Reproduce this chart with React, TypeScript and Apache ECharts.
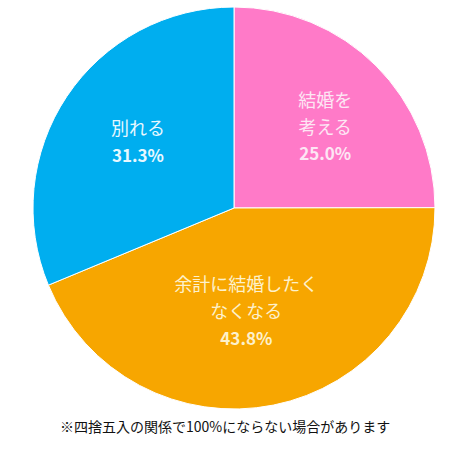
import { useEffect, useRef } from 'react';
import * as echarts from 'echarts';

const categories = ['結婚を\n考える', '余計に結婚したく\nなくなる', '別れる'];
const shares = [25.0, 43.8, 31.3];
const sliceColors = ['#ff7ac8', '#f7a600', '#00aeef'];
const labelColors = ['#fde6f4', '#fdf1cc', '#e8f8ff'];
const labelOffsets = [
  [18, -9],
  [-8, 1],
  [-10, -10],
];
const footnote = '※四捨五入の関係で100%にならない場合があります';

const FONT = "'Noto Sans CJK JP', 'Noto Sans', sans-serif";

export default function App() {
  const chartRef = useRef<HTMLDivElement>(null);

  useEffect(() => {
    if (!chartRef.current) return;
    document.body.style.margin = '0';
    const chart = echarts.init(chartRef.current, null, { renderer: 'svg' });

    const option: echarts.EChartsOption = {
      animation: false,
      backgroundColor: '#ffffff',
      series: [
        {
          type: 'pie',
          center: [234, 208],
          radius: 201,
          startAngle: 90,
          clockwise: true,
          silent: true,
          itemStyle: { borderColor: '#ffffff', borderWidth: 1 },
          label: {
            show: true,
            position: 'inside',
            fontFamily: FONT,
            lineHeight: 27,
          },
          labelLine: { show: false },
          data: categories.map((name, i) => ({
            name,
            value: shares[i],
            itemStyle: { color: sliceColors[i] },
            label: {
              offset: labelOffsets[i],
              formatter: `{n|${name}}\n{p|${shares[i].toFixed(1)}%}`,
              rich: {
                n: {
                  color: labelColors[i],
                  fontSize: 18,
                  fontFamily: FONT,
                  lineHeight: 27,
                  align: 'center',
                },
                p: {
                  color: labelColors[i],
                  fontSize: 17,
                  fontWeight: 'bold',
                  fontFamily: FONT,
                  lineHeight: 27,
                  align: 'center',
                },
              },
            },
          })),
        },
      ],
      graphic: [
        {
          type: 'text',
          left: 60,
          top: 419,
          style: {
            text: footnote,
            fill: '#111111',
            fontSize: 14,
            fontFamily: FONT,
          },
        },
      ],
    };

    chart.setOption(option);
    return () => {
      chart.dispose();
    };
  }, []);

  return <div ref={chartRef} style={{ width: '473px', height: '456px' }} />;
}
